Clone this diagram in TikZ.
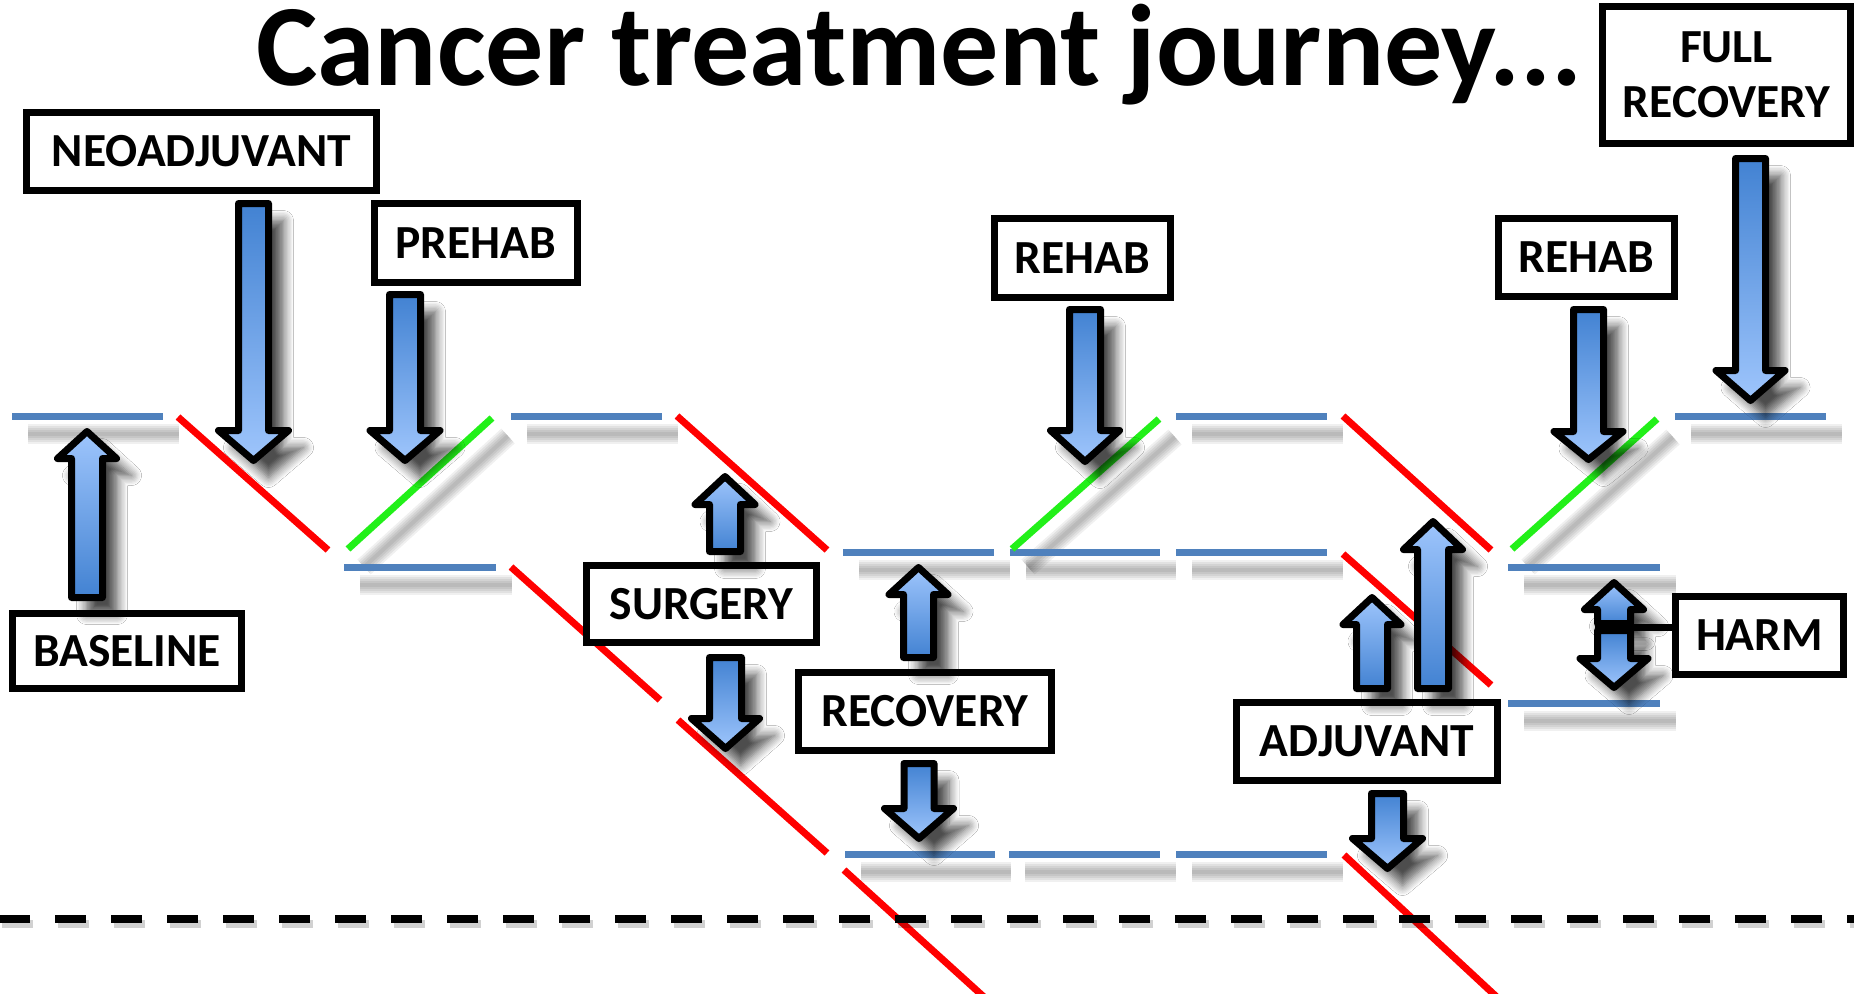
\documentclass[tikz,border=0pt]{standalone}
\usepackage{fontspec}
\setmainfont{Carlito}
\usetikzlibrary{shadows.blur}
\definecolor{lblue}{RGB}{79,129,189}
\definecolor{lred}{RGB}{255,0,0}
\definecolor{lgreen}{RGB}{34,240,25}
\definecolor{adark}{RGB}{66,130,210}
\definecolor{alight}{RGB}{158,197,252}
\tikzset{
  lvl/.style={draw=lblue, line width=7pt},
  fall/.style={draw=lred, line width=7pt},
  rise/.style={draw=lgreen, line width=7pt},
  shd/.style={draw=black, line width=#1, opacity=0.06},
  lbox/.style={draw=black, line width=7pt, fill=white, inner sep=0pt,
    font=\fontsize{47.5}{55}\selectfont\bfseries, text height=30pt, text depth=0pt},
  barr/.style={draw=black, line width=7pt, line join=round,
    blur shadow={shadow xshift=15pt, shadow yshift=-17pt, shadow blur radius=10pt, shadow blur steps=8, shadow opacity=70}},
  dashline/.style={draw=black, line width=8pt, dash pattern=on 31pt off 25pt},
}
% shadow of a line
\newcommand\lshadow[2]{\foreach \w in {20,16,12,8,4}{\draw[shd=\w pt, shift={(16,18)}] #1 -- #2;}}
% down arrow: cx, tail, tip, head base, shaft half, head half (outer sizes)
\newcommand\darr[6]{\path[barr, top color=adark, bottom color=alight]
  ({#1-#5+3.5},{#2+3.5}) -- ({#1-#5+3.5},{#4+3.5}) -- ({#1-#6+4.5},{#4+3.5}) -- (#1,{#3-4.5})
  -- ({#1+#6-4.5},{#4+3.5}) -- ({#1+#5-3.5},{#4+3.5}) -- ({#1+#5-3.5},{#2+3.5}) -- cycle;}
% up arrow
\newcommand\uarr[6]{\path[barr, top color=alight, bottom color=adark]
  ({#1-#5+3.5},{#2-3.5}) -- ({#1-#5+3.5},{#4-3.5}) -- ({#1-#6+4.5},{#4-3.5}) -- (#1,{#3+4.5})
  -- ({#1+#6-4.5},{#4-3.5}) -- ({#1+#5-3.5},{#4-3.5}) -- ({#1+#5-3.5},{#2-3.5}) -- cycle;}
\begin{document}
\begin{tikzpicture}[x=1pt,y=-1pt]
\useasboundingbox[fill=white] (0,0) rectangle (1854,993);
\clip (0,0) rectangle (1854,993);
% ---- shadows of level lines and rising lines
\lshadow{(12,416)}{(163,416)}
\lshadow{(511,416)}{(662,416)}
\lshadow{(1176,416)}{(1327,416)}
\lshadow{(1675,416)}{(1826,416)}
\lshadow{(843,552)}{(994,552)}
\lshadow{(1010,552)}{(1160,552)}
\lshadow{(1176,552)}{(1327,552)}
\lshadow{(344,567)}{(496,567)}
\lshadow{(1508,567)}{(1660,567)}
\lshadow{(1508,703)}{(1660,703)}
\lshadow{(845,854)}{(995,854)}
\lshadow{(1009,854)}{(1160,854)}
\lshadow{(1176,854)}{(1327,854)}
\lshadow{(348,549)}{(492,418)}
\lshadow{(1012,549)}{(1159,419)}
\lshadow{(1512,549)}{(1657,419)}
% ---- level lines
\draw[lvl] (12,416) -- (163,416);
\draw[lvl] (511,416) -- (662,416);
\draw[lvl] (1176,416) -- (1327,416);
\draw[lvl] (1675,416) -- (1826,416);
\draw[lvl] (843,552) -- (994,552);
\draw[lvl] (1010,552) -- (1160,552);
\draw[lvl] (1176,552) -- (1327,552);
\draw[lvl] (344,567) -- (496,567);
\draw[lvl] (1508,567) -- (1660,567);
\draw[lvl] (1508,703) -- (1660,703);
\draw[lvl] (845,854) -- (995,854);
\draw[lvl] (1009,854) -- (1160,854);
\draw[lvl] (1176,854) -- (1327,854);
% ---- falling lines
\draw[fall] (178,417) -- (328,550);
\draw[fall] (677,416) -- (827,550);
\draw[fall] (511,567) -- (660,700);
\draw[fall] (678,720) -- (827,853);
\draw[fall] (844,870) -- (995,1007);
\draw[fall] (1343,416) -- (1491,550);
\draw[fall] (1343,554) -- (1491,685);
\draw[fall] (1344,855) -- (1500,1000);
% ---- rising lines
\draw[rise] (348,549) -- (492,418);
\draw[rise] (1012,549) -- (1159,419);
\draw[rise] (1512,549) -- (1657,419);
% ---- dashed baseline
\draw[dashline, opacity=0.18, shift={(3,5)}] (-1,919) -- (1860,919);
\draw[dashline] (-1,919) -- (1860,919);
% ---- boxes
\node[lbox, minimum width=350pt, minimum height=78pt] (neo) at (201.5,151.5) {NEOADJUVANT};
\node[lbox, minimum width=203pt, minimum height=79pt] (prehab) at (476,243) {PREHAB};
\node[lbox, minimum width=229pt, minimum height=75pt] (baseline) at (127,651) {BASELINE};
\node[lbox, minimum width=230pt, minimum height=77pt] (surgery) at (701.5,604) {SURGERY};
\node[lbox, minimum width=253pt, minimum height=78pt] (recovery) at (925,711.5) {RECOVERY};
\node[lbox, minimum width=176pt, minimum height=79pt] (rehab1) at (1082.5,258) {REHAB};
\node[lbox, minimum width=176pt, minimum height=78pt] (rehab2) at (1586.5,257.5) {REHAB};
\node[lbox, minimum width=261pt, minimum height=78pt] (adjuvant) at (1367,741.5) {ADJUVANT};
\node[lbox, minimum width=168pt, minimum height=78pt] (harm) at (1759.5,635.5) {HARM};
\node[lbox, minimum width=248pt, minimum height=137pt, align=center, text height=85pt, text depth=0pt] (full) at (1726.5,75) {FULL\\RECOVERY};
% ---- block arrows
\uarr{87}{601}{427}{462}{19}{34}
\darr{253.5}{200}{465}{427}{18.5}{39.5}
\darr{405}{291}{465}{427}{19}{39.5}
\uarr{725}{555}{472}{508}{19}{34.5}
\darr{725.5}{654}{753}{715}{19.5}{38.5}
\uarr{918.5}{661}{563}{598}{18.5}{34}
\darr{919}{760}{843}{805}{18.5}{39}
\darr{1085}{306}{466}{427}{19}{39}
\darr{1588.5}{306}{464}{428}{18.5}{39}
\darr{1750.5}{155}{405}{367}{18.5}{39}
\uarr{1372}{692}{593}{628}{19}{33.5}
\uarr{1433}{692}{517}{553}{19}{34}
\darr{1387.5}{790}{873}{835}{19.5}{39.5}
\uarr{1614}{627}{578}{613}{20}{34}
\darr{1614}{627}{692}{655}{20}{38.5}
% ---- harm connector
\coordinate (hl) at (1595,627);
\draw[line width=7pt] (hl) -- (hl -| harm.west);
% ---- title
\node[anchor=base west, inner sep=0pt, text height=76pt, text depth=24pt, font=\fontsize{116}{124}\selectfont\bfseries] (title) at (256,85) {Cancer treatment journey...};
\end{tikzpicture}
\end{document}
